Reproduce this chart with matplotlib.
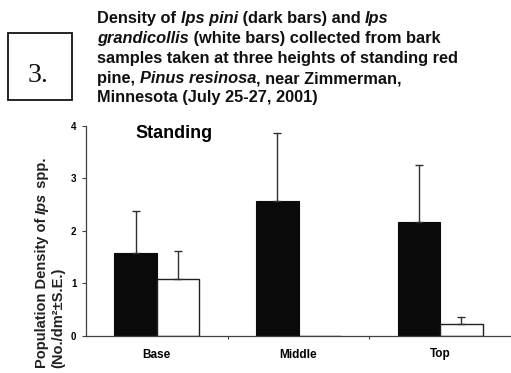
import matplotlib
matplotlib.use("Agg")
import matplotlib.pyplot as plt
from matplotlib.patches import Rectangle
import numpy as np

# ---- data ----
categories = ["Base", "Middle", "Top"]
ips_pini = [1.57, 2.57, 2.16]          # dark bars
ips_pini_se = [0.80, 1.30, 1.09]
ips_grandicollis = [1.08, 0.0, 0.23]   # white bars
ips_grandicollis_se = [0.53, 0.0, 0.14]
yticks = [0, 1, 2, 3, 4]

title_lines = [
    [("Density of ", "normal"), ("Ips pini", "italic"), (" (dark bars) and ", "normal"), ("Ips", "italic")],
    [("grandicollis", "italic"), (" (white bars) collected from bark", "normal")],
    [("samples taken at three heights of standing red", "normal")],
    [("pine, ", "normal"), ("Pinus resinosa", "italic"), (", near Zimmerman,", "normal")],
    [("Minnesota (July 25-27, 2001)", "normal")],
]

W, H = 511, 373
fig = plt.figure(figsize=(W / 100, H / 100), dpi=100)
fig.patch.set_facecolor("white")

FONT = "Liberation Sans"

ax = fig.add_axes([86 / W, (H - 336) / H, 425 / W, 210.3 / H])
x = np.arange(len(categories))
bw = 0.3
ax.bar(x - bw / 2, ips_pini, bw, color="#0a0a0a", edgecolor="#0a0a0a", linewidth=0.8, zorder=2)
ax.bar(x + bw / 2, ips_grandicollis, bw, color="white", edgecolor="#202020", linewidth=1.0, zorder=2)

for xi, v, e in zip(x - bw / 2, ips_pini, ips_pini_se):
    if e > 0:
        ax.errorbar([xi], [v], yerr=[[0], [e]], fmt="none", ecolor="#303030",
                    elinewidth=1.0, capsize=3, capthick=1.0, zorder=3)
for xi, v, e in zip(x + bw / 2, ips_grandicollis, ips_grandicollis_se):
    if e > 0:
        ax.errorbar([xi], [v], yerr=[[0], [e]], fmt="none", ecolor="#303030",
                    elinewidth=1.0, capsize=3, capthick=1.0, zorder=3)

ax.set_xlim(-0.5, 2.5)
ax.set_ylim(0, 4)
ax.set_yticks(yticks)
ax.set_yticklabels([str(t) for t in yticks], fontfamily=FONT, fontweight="bold", fontsize=7)
ax.set_xticks(x)
ax.set_xticklabels(categories, fontfamily=FONT, fontweight="bold", fontsize=8.5)
ax.tick_params(axis="x", which="major", length=0, pad=9)
ax.set_xticks([0.5, 1.5], minor=True)
ax.tick_params(axis="x", which="minor", length=2.5, width=0.8, direction="out", color="#404040")
ax.tick_params(axis="y", length=3, width=0.8, color="#404040", pad=4)
for s in ["top", "right"]:
    ax.spines[s].set_visible(False)
for s in ["left", "bottom"]:
    ax.spines[s].set_color("#404040")
    ax.spines[s].set_linewidth(0.9)

ax.text(135 / W, 1 - 138 / H, "Standing", transform=fig.transFigure,
        fontfamily=FONT, fontweight="bold", fontsize=13, ha="left", va="baseline")

# y label (two rotated lines, aligned at the bottom)
YL = 10.5
fig.text(42 / W, 1 - 368 / H, "Population Density of ", rotation=90, ha="center", va="bottom",
         fontfamily=FONT, fontweight="bold", fontsize=YL, color="#222222")
fig.canvas.draw()
r = fig.canvas.get_renderer()
t0 = fig.texts[-1]
bb = t0.get_window_extent(r)
t1 = fig.text(42 / W, bb.y1 / H, "Ips", rotation=90, ha="center", va="bottom",
              fontfamily=FONT, fontweight="bold", fontstyle="italic", fontsize=YL, color="#222222")
bb1 = t1.get_window_extent(r)
fig.text(42 / W, bb1.y1 / H, " spp.", rotation=90, ha="center", va="bottom",
         fontfamily=FONT, fontweight="bold", fontsize=YL, color="#222222")
fig.text(58 / W, 1 - 368 / H, "(No./dm²±S.E.)", rotation=90, ha="center", va="bottom",
         fontfamily=FONT, fontweight="bold", fontsize=YL, color="#222222")

# title block
x0 = 97
baselines = [23, 43, 63, 83, 102]
for segs, yb in zip(title_lines, baselines):
    xc = x0
    for txt, style in segs:
        t = fig.text(xc / W, 1 - yb / H, txt, ha="left", va="baseline",
                     fontfamily=FONT, fontweight="bold", fontstyle=style, fontsize=11.8,
                     color="#111111")
        bbt = t.get_window_extent(r)
        xc = bbt.x1

# boxed "3."
fig.patches.append(Rectangle((8 / W, 1 - 100 / H), 64 / W, 67 / H, transform=fig.transFigure,
                             fill=False, edgecolor="#111111", linewidth=1.3))
fig.text(38 / W, 1 - 82 / H, "3.", ha="center", va="baseline",
         fontfamily="Liberation Serif", fontsize=20, color="#111111")

fig.savefig("out.png", dpi=100, facecolor="white")
